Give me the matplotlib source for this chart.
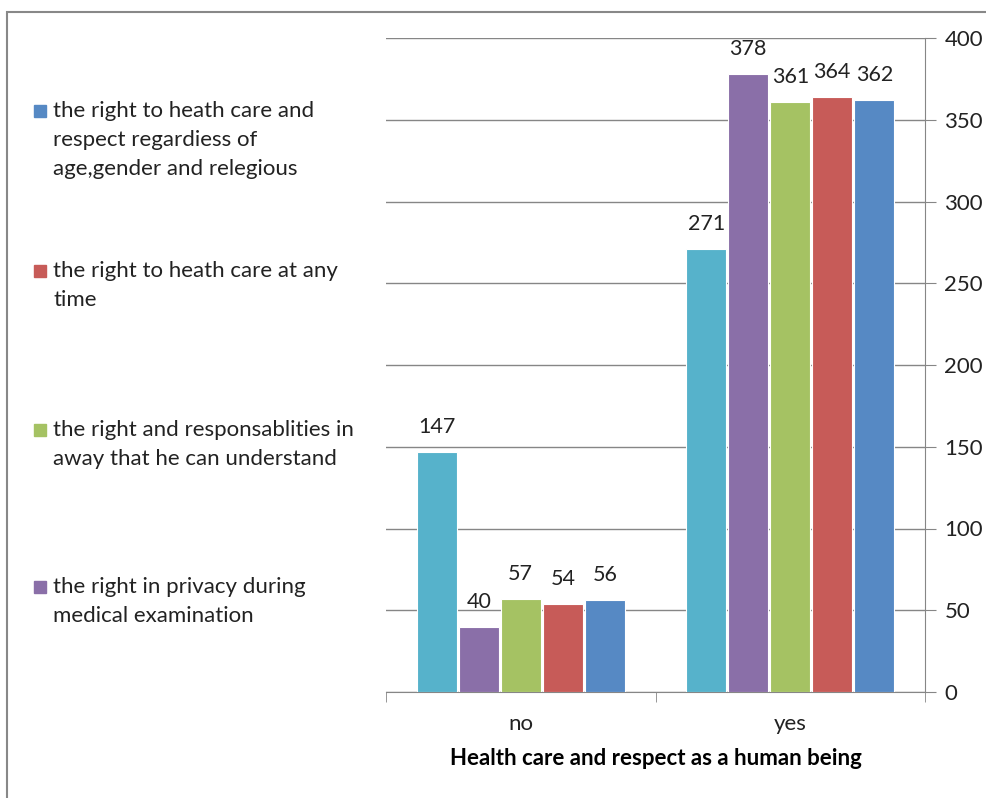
import numpy as np
import matplotlib
matplotlib.use("Agg")
import matplotlib.pyplot as plt
from matplotlib.patches import Rectangle

plt.rcParams['font.family'] = ['Lato', 'DejaVu Sans']

categories = ["no", "yes"]
# bar order inside each group, left to right
series_names = [
    "",  # cyan series, not shown in legend
    "the right in privacy during\nmedical examination",
    "the right and responsablities in\naway that he can understand",
    "the right to heath care at any\ntime",
    "the right to heath care and\nrespect regardiess of\nage,gender and relegious",
]
values_no = [147, 40, 57, 54, 56]
values_yes = [271, 378, 361, 364, 362]
colors = ["#56B2CB", "#8A6FA8", "#A5C263", "#C75B58", "#5689C4"]
legend_order = [4, 3, 2, 1]
xlabel = "Health care and respect as a human being"

fig = plt.figure(figsize=(9.86, 7.98), dpi=100)
ax = fig.add_axes([386/986, 1-692/798, (925-386)/986, (692-38)/798])

x = np.arange(len(categories))
slot = 0.156
width = 0.148
for i in range(5):
    vals = [values_no[i], values_yes[i]]
    pos = x + (i - 2) * slot
    ax.bar(pos, vals, width=width, color=colors[i], edgecolor="white", linewidth=0.8, zorder=3)
    for p, v in zip(pos, vals):
        ax.annotate(str(v), (p, v), xytext=(0, 18), textcoords="offset points",
                    ha="center", va="center", fontsize=15.5, color="#222222")

ax.set_ylim(0, 400)
ax.set_xlim(-0.5, 1.5)
ax.set_yticks(np.arange(0, 401, 50))
ax.yaxis.tick_right()
ax.tick_params(axis="y", direction="out", length=8, color="#868686", labelsize=16, pad=6, labelcolor="#222222")
ax.grid(axis="y", color="#868686", linewidth=1, zorder=0)
ax.set_axisbelow(True)

ax.set_xticks(x)
ax.set_xticklabels(categories)
ax.tick_params(axis="x", length=0, labelsize=16, pad=16, labelcolor="#222222")
ax.set_xticks([-0.5, 0.5, 1.5], minor=True)
ax.tick_params(axis="x", which="minor", length=7, color="#868686", direction="out")
ax.set_xlabel(xlabel, fontsize=16, fontweight="bold", labelpad=10)

for s in ["top", "left"]:
    ax.spines[s].set_visible(False)
for s in ["right", "bottom"]:
    ax.spines[s].set_color("#868686")

# legend on the left, drawn by hand
entry_y = [111, 271, 430, 587]
pitch = 29
for k, idx in enumerate(legend_order):
    y0 = entry_y[k]
    fig.patches.append(Rectangle((34/986, 1-(y0+6)/798), 12/986, 12/798,
                                 transform=fig.transFigure, color=colors[idx]))
    for j, line in enumerate(series_names[idx].split("\n")):
        fig.text(53/986, 1-(y0+j*pitch)/798, line, fontsize=16, va="center",
                 ha="left", color="#222222")

# outer frame
fig.patches.append(Rectangle((7/986, -0.05), 1.1, 1-12/798+0.05, transform=fig.transFigure,
                             fill=False, edgecolor="#888888", linewidth=1.5))

fig.savefig("out.png", dpi=100)
